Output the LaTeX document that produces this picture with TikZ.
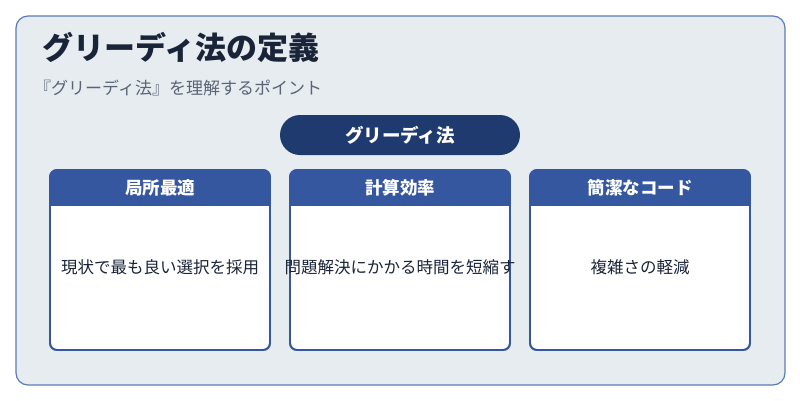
\documentclass[tikz,border=0pt]{standalone}
\usepackage{fontspec}
\setmainfont{Noto Sans CJK JP}
\definecolor{bg}{HTML}{E7ECF1}
\definecolor{frame}{HTML}{5B7BB5}
\definecolor{navy}{HTML}{1F3A6E}
\definecolor{head}{HTML}{3557A0}
\definecolor{titlec}{HTML}{1A2438}
\definecolor{subc}{HTML}{5A6475}
\tikzset{
  card/.style={draw=head,line width=1.8pt,fill=white,rounded corners=7pt},
  headtxt/.style={text=white,font=\fontsize{17.5}{20}\selectfont\bfseries},
  bodytxt/.style={text=titlec,font=\fontsize{16.5}{19}\selectfont},
}
\begin{document}
\begin{tikzpicture}[x=1pt,y=-1pt]
\useasboundingbox (0,0) rectangle (800,400);
\fill[white] (0,0) rectangle (800,400);
\draw[draw=frame,fill=bg,line width=1.2pt,rounded corners=12pt] (16,16) rectangle (785,385);
\node[anchor=west,text=titlec,font=\fontsize{31}{34}\selectfont\bfseries,inner sep=0pt] (title) at (42,47) {グリーディ法の定義};
\node[anchor=west,text=subc,font=\fontsize{17}{20}\selectfont,inner sep=0pt] (sub) at (34,88) {『グリーディ法』を理解するポイント};
\node[fill=navy,rounded corners=20pt,minimum width=240pt,minimum height=40pt,text=white,font=\fontsize{18.5}{21}\selectfont\bfseries] (pill) at (400,135) {グリーディ法};
\foreach \x/\h/\b/\n in {50/局所最適/現状で最も良い選択を採用/a, 290/計算効率/問題解決にかかる時間を短縮す/b, 530/簡潔なコード/複雑さの軽減/c}{
  \draw[card] (\x,170) rectangle ++(220,180);
  \begin{scope}
    \clip[rounded corners=7pt] (\x,170) rectangle ++(220,180);
    \fill[head] (\x,170) rectangle ++(220,36);
  \end{scope}
  \draw[draw=head,line width=1.8pt,rounded corners=7pt] (\x,170) rectangle ++(220,180);
  \node[headtxt] (h\n) at (\x+110,188) {\h};
  \node[bodytxt] (t\n) at (\x+110,267) {\b};
}
\end{tikzpicture}
\end{document}
